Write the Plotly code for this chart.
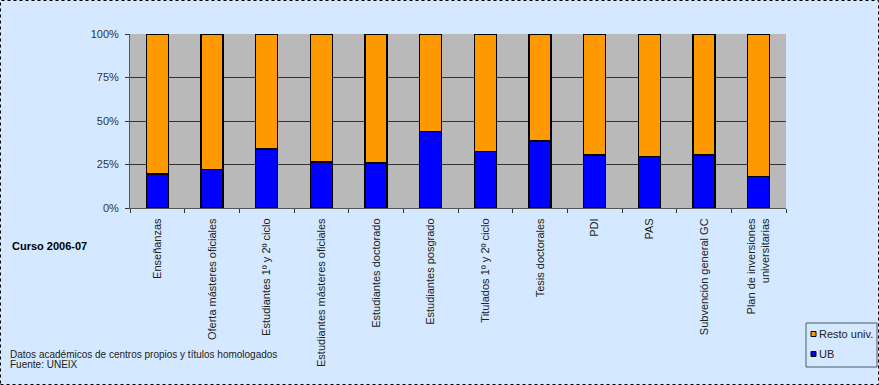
import plotly.graph_objects as go

categories = [
    "Enseñanzas",
    "Oferta másteres oficiales",
    "Estudiantes 1º y 2º ciclo",
    "Estudiantes másteres oficiales",
    "Estudiantes doctorado",
    "Estudiantes posgrado",
    "Titulados 1º y 2º ciclo",
    "Tesis doctorales",
    "PDI",
    "PAS",
    "Subvención general GC",
    "Plan de inversiones<br>universitarias",
]
ub_values = [19.5, 22, 34, 26.5, 26, 44, 32.5, 38.5, 30.5, 29.5, 30.5, 18]
resto_values = [80.5, 78, 66, 73.5, 74, 56, 67.5, 61.5, 69.5, 70.5, 69.5, 82]
y_tick_values = [0, 25, 50, 75, 100]
y_tick_labels = ["0%", "25%", "50%", "75%", "100%"]
series_names = ["UB", "Resto univ."]
series_colors = ["#0000FF", "#FF9900"]

W, H = 879, 385
L, R, T, B = 130, 93, 34, 177
pw, ph = W - L - R, H - T - B

def px(x):
    return (x - L) / pw

def py(y):
    return (H - B - y) / ph

font = "Liberation Sans, Arial, sans-serif"

fig = go.Figure()
for name, vals, col in zip(series_names, [ub_values, resto_values], series_colors):
    fig.add_trace(go.Bar(
        x=categories, y=vals, name=name, width=0.4,
        marker=dict(color=col, line=dict(color="#000000", width=1.5)),
    ))

# manual legend (Excel-style box, bottom right)
shapes = [
    dict(type="rect", xref="paper", yref="paper",
         x0=px(806), x1=px(877), y0=py(367), y1=py(323),
         line=dict(color="#4a5a6a", width=1), fillcolor="rgba(0,0,0,0)"),
    dict(type="rect", xref="paper", yref="paper",
         x0=px(0.5), x1=px(878.5), y0=py(384.5), y1=py(0.5),
         line=dict(color="#000000", width=1, dash="dot"), layer="above"),
]
annotations = []
legend_rows = [(series_names[1], series_colors[1], 334), (series_names[0], series_colors[0], 354)]
for name, col, yc in legend_rows:
    shapes.append(dict(type="rect", xref="paper", yref="paper",
                       x0=px(811), x1=px(816), y0=py(yc + 2.5), y1=py(yc - 2.5),
                       line=dict(color="#000000", width=1), fillcolor=col))
    annotations.append(dict(text=name, xref="paper", yref="paper",
                            x=px(817), y=py(yc), xanchor="left", yanchor="middle",
                            showarrow=False, font=dict(size=11, color="#222222")))

annotations += [
    dict(text="<b>Curso 2006-07</b>", xref="paper", yref="paper",
         x=px(10), y=py(246), xanchor="left", yanchor="middle",
         showarrow=False, font=dict(size=11, color="#000000")),
    dict(text="Datos académicos de centros propios y títulos homologados",
         xref="paper", yref="paper", x=px(8), y=py(354),
         xanchor="left", yanchor="middle", showarrow=False,
         font=dict(size=10, color="#222222")),
    dict(text="Fuente: UNEIX",
         xref="paper", yref="paper", x=px(8), y=py(364),
         xanchor="left", yanchor="middle", showarrow=False,
         font=dict(size=10, color="#222222")),
]

fig.update_layout(
    width=W, height=H,
    margin=dict(l=L, r=R, t=T, b=B, pad=0, autoexpand=False),
    barmode="stack",
    paper_bgcolor="#D4E9FF",
    plot_bgcolor="#B9B9B9",
    font=dict(family=font, size=11, color="#222222"),
    showlegend=False,
    xaxis=dict(
        type="category", tickangle=-90, showgrid=False,
        ticks="outside", ticklen=4, tickcolor="#333333", tickson="boundaries",
        showline=True, linecolor="#555555", linewidth=1,
        tickfont=dict(size=11, color="#222222"), automargin=False,
        ticklabelstandoff=5,
    ),
    yaxis=dict(
        range=[0, 100], tickvals=y_tick_values, ticktext=y_tick_labels,
        showgrid=True, gridcolor="#333333", gridwidth=1,
        ticks="outside", ticklen=4, tickcolor="#333333",
        showline=True, linecolor="#555555", linewidth=1,
        tickfont=dict(size=11, color="#333333"), zeroline=False, automargin=False,
        ticklabelstandoff=4,
    ),
    annotations=annotations,
    shapes=shapes,
)

fig.write_html(
    "out.html",
    config={"displayModeBar": False},
    post_script="document.body.style.margin='0px';document.body.style.overflow='hidden';",
)
